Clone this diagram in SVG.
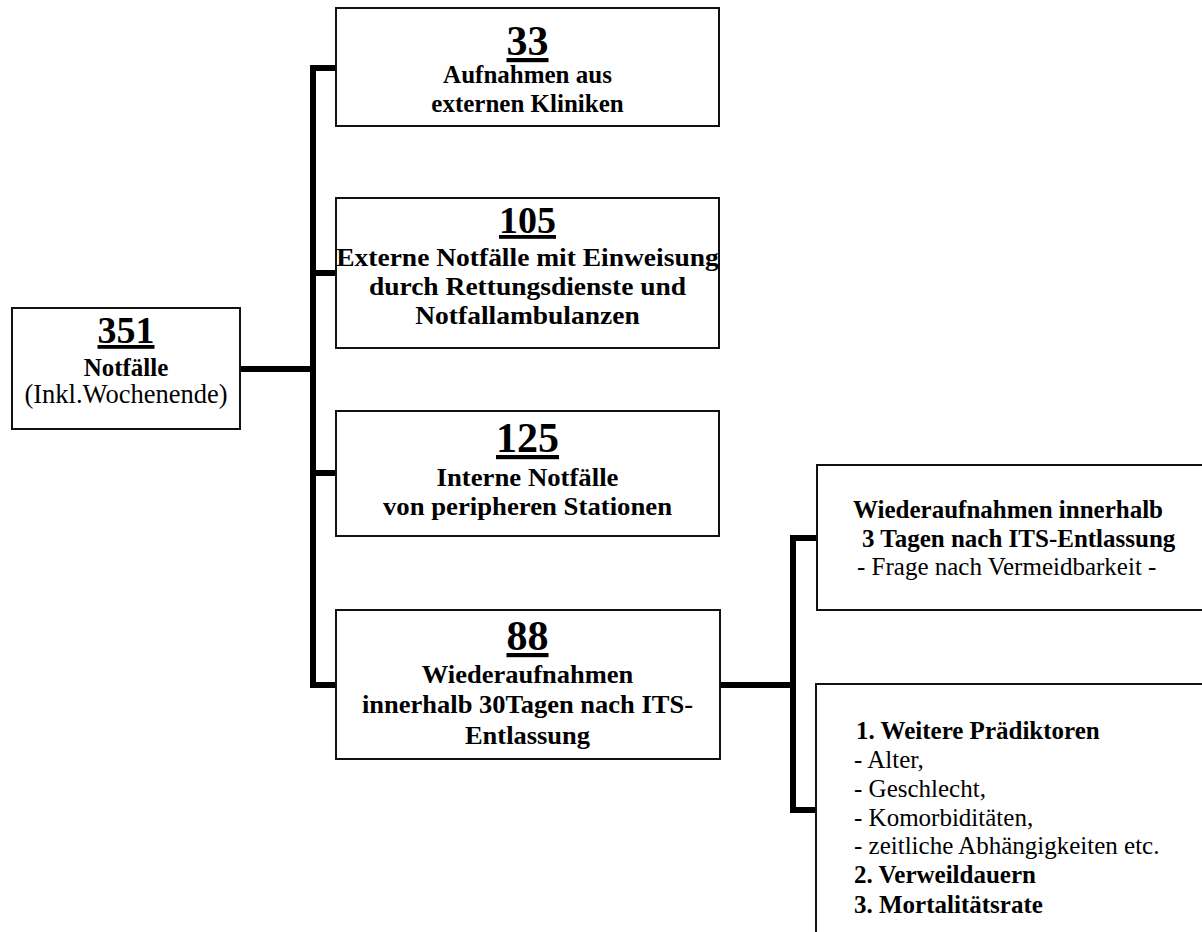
<svg xmlns="http://www.w3.org/2000/svg" width="1202" height="932" viewBox="0 0 1202 932">
<style>
  .box { fill: #fff; stroke: #111; stroke-width: 2; }
  .conn { fill: none; stroke: #000; stroke-width: 6; stroke-linejoin: miter; stroke-linecap: butt; }
  text { font-family: "Liberation Serif", "Times New Roman", serif; fill: #000; }
  .num { font-weight: bold; text-decoration: underline; text-anchor: middle; }
  .b { font-weight: bold; font-size: 25px; }
  .r { font-size: 25px; }
  .c { text-anchor: middle; }
</style>
<rect width="1202" height="932" fill="#fff"/>
<g id="connectors">
  <path class="conn" d="M240 369 H313"/>
  <path class="conn" d="M336 68 H313 V685 H336"/>
  <path class="conn" d="M313 273 H336"/>
  <path class="conn" d="M313 473 H336"/>
  <path class="conn" d="M720 685 H793"/>
  <path class="conn" d="M817 538 H793 V810 H817"/>
</g>
<g id="n351">
  <rect class="box" x="12" y="308" width="228" height="121"/>
  <text class="num" x="126" y="343" font-size="38">351</text>
  <text class="b c" x="126" y="376">Notfälle</text>
  <text class="r c" x="126" y="403" style="font-size:26.5px">(Inkl.Wochenende)</text>
</g>
<g id="n33">
  <rect class="box" x="336" y="8" width="383" height="118"/>
  <text class="num" x="527.5" y="55" font-size="42">33</text>
  <text class="b c" x="527.5" y="83">Aufnahmen aus</text>
  <text class="b c" x="527.5" y="112">externen Kliniken</text>
</g>
<g id="n105">
  <rect class="box" x="336" y="198" width="383" height="150"/>
  <text class="num" x="527.5" y="233" font-size="38">105</text>
  <g transform="translate(527.5 0) scale(1.1 1) translate(-527.5 0)">
    <text class="b c" x="527.5" y="266">Externe Notfälle mit Einweisung</text>
    <text class="b c" x="527.5" y="295">durch Rettungsdienste und</text>
    <text class="b c" x="527.5" y="324">Notfallambulanzen</text>
  </g>
</g>
<g id="n125">
  <rect class="box" x="336" y="411" width="383" height="125"/>
  <text class="num" x="527.5" y="452" font-size="42">125</text>
  <g transform="translate(527.5 0) scale(1.07 1) translate(-527.5 0)">
    <text class="b c" x="527.5" y="486">Interne Notfälle</text>
    <text class="b c" x="527.5" y="515">von peripheren Stationen</text>
  </g>
</g>
<g id="n88">
  <rect class="box" x="336" y="610" width="384" height="149"/>
  <text class="num" x="527.5" y="650" font-size="42">88</text>
  <g transform="translate(527.5 0) scale(1.06 1) translate(-527.5 0)">
    <text class="b c" x="527.5" y="683">Wiederaufnahmen</text>
    <text class="b c" x="527.5" y="713">innerhalb 30Tagen nach ITS-</text>
    <text class="b c" x="527.5" y="744">Entlassung</text>
  </g>
</g>
<g id="n3tage">
  <rect class="box" x="817" y="465" width="400" height="145"/>
  <text class="b" x="853" y="518">Wiederaufnahmen innerhalb</text>
  <text class="b" x="862" y="547">3 Tagen nach ITS-Entlassung</text>
  <text class="r" x="857" y="575">- Frage nach Vermeidbarkeit -</text>
</g>
<g id="nweitere">
  <rect class="box" x="816" y="684" width="400" height="260"/>
  <text class="b" x="856" y="739">1. Weitere Prädiktoren</text>
  <text class="r" x="854" y="768">- Alter,</text>
  <text class="r" x="854" y="797">- Geschlecht,</text>
  <text class="r" x="854" y="826">- Komorbiditäten,</text>
  <text class="r" x="854" y="854">- zeitliche Abhängigkeiten etc.</text>
  <text class="b" x="854" y="883">2. Verweildauern</text>
  <text class="b" x="854" y="913">3. Mortalitätsrate</text>
</g>
</svg>
